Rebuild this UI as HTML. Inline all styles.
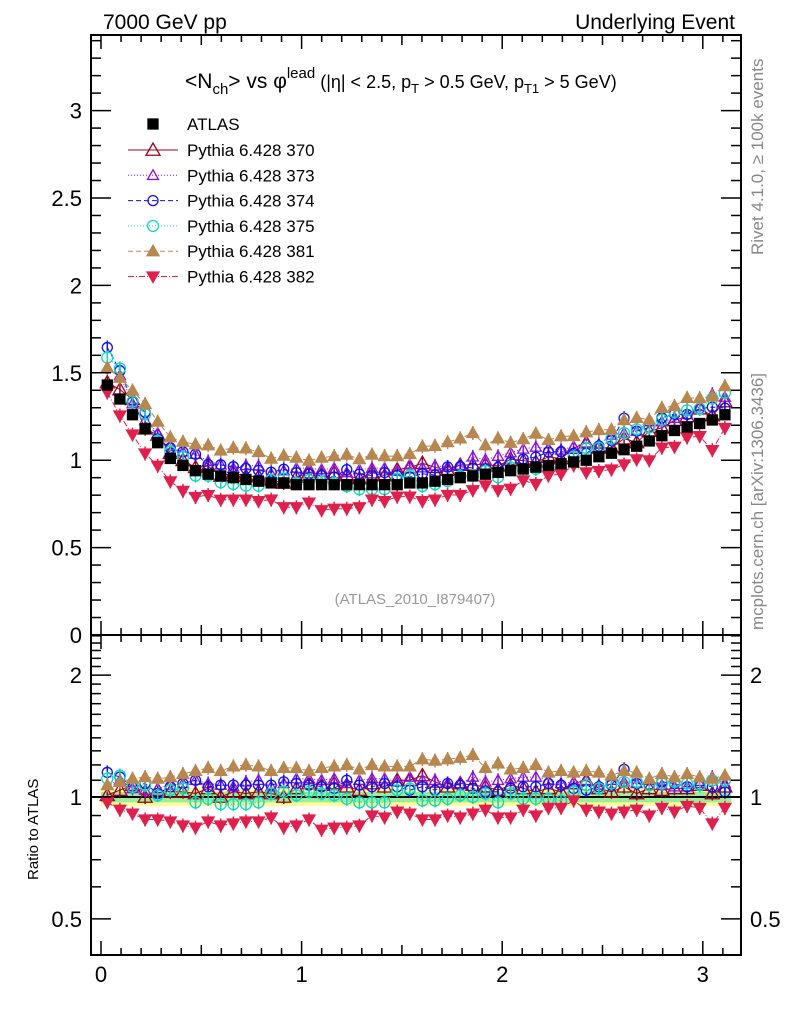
<!DOCTYPE html>
<html><head><meta charset="utf-8"><style>
body{margin:0;background:#fff;width:786px;height:1024px;overflow:hidden}
svg{font-family:"Liberation Sans",sans-serif}
</style></head><body>
<svg id="c" width="786" height="1024" xmlns="http://www.w3.org/2000/svg"></svg>
<script>
const atlas=[1.43,1.35,1.26,1.18,1.10,1.01,0.97,0.94,0.92,0.91,0.90,0.89,0.88,0.87,0.87,0.86,0.86,0.86,0.86,0.86,0.86,0.86,0.86,0.86,0.87,0.87,0.88,0.89,0.90,0.91,0.92,0.93,0.94,0.95,0.96,0.97,0.98,0.99,1.00,1.02,1.04,1.06,1.08,1.11,1.14,1.17,1.19,1.21,1.23,1.26];
const r370=[1.01,1.04,1.07,1.00,1.04,1.03,1.03,1.02,1.05,1.00,1.03,1.02,1.03,1.02,1.00,1.05,1.08,1.07,1.08,1.06,1.04,1.08,1.06,1.10,1.10,1.13,1.09,1.06,1.08,1.07,1.06,1.04,1.07,1.05,1.03,1.05,1.03,1.08,1.10,1.05,1.03,1.06,1.02,1.05,1.04,1.05,1.05,1.07,1.02,1.06];
const r373=[1.07,1.10,1.05,1.04,1.05,1.07,1.08,1.10,1.08,1.07,1.06,1.09,1.10,1.06,1.08,1.11,1.11,1.10,1.11,1.08,1.10,1.11,1.11,1.09,1.12,1.10,1.10,1.08,1.08,1.12,1.09,1.10,1.11,1.12,1.12,1.10,1.08,1.09,1.10,1.07,1.10,1.09,1.08,1.10,1.07,1.06,1.06,1.08,1.12,1.08];
const r374=[1.15,1.12,1.06,1.08,1.02,1.06,1.08,1.10,1.06,1.07,1.07,1.07,1.07,1.07,1.09,1.08,1.07,1.06,1.05,1.10,1.07,1.06,1.08,1.06,1.04,1.06,1.04,1.08,1.07,1.05,1.03,1.03,1.05,1.06,1.06,1.08,1.07,1.05,1.04,1.06,1.07,1.17,1.08,1.07,1.09,1.08,1.06,1.07,1.06,1.03];
const r375=[1.11,1.13,1.06,1.07,1.01,1.04,1.05,0.97,0.99,0.96,0.96,0.96,0.97,1.02,1.03,1.01,1.03,1.02,1.01,0.99,0.97,0.97,0.97,1.04,1.05,0.98,0.98,0.99,1.01,1.00,1.02,0.97,1.02,0.99,0.99,0.99,0.98,1.03,1.07,1.05,1.08,1.09,1.09,1.07,1.08,1.09,1.08,1.07,1.10,1.10];
const r381=[1.07,1.09,1.11,1.12,1.11,1.12,1.14,1.16,1.18,1.16,1.19,1.20,1.19,1.16,1.18,1.18,1.16,1.18,1.19,1.20,1.17,1.20,1.19,1.19,1.19,1.24,1.23,1.24,1.25,1.27,1.18,1.21,1.17,1.18,1.20,1.15,1.16,1.15,1.16,1.15,1.13,1.16,1.15,1.11,1.14,1.12,1.14,1.12,1.11,1.13];
const r382=[0.97,0.93,0.91,0.88,0.88,0.87,0.85,0.84,0.87,0.85,0.86,0.87,0.87,0.89,0.84,0.85,0.88,0.83,0.84,0.84,0.85,0.90,0.89,0.92,0.91,0.88,0.88,0.90,0.89,0.91,0.93,0.89,0.89,0.93,0.90,0.94,0.94,0.98,0.93,0.92,0.91,0.92,0.93,0.90,0.94,0.92,0.95,0.94,0.86,0.94];
const mainTicks=["0","0.5","1","1.5","2","2.5","3"];
const xTicks=["0","1","2","3"];
const ratioTicks=["0.5","1","2"];

const S=document.getElementById('c');const NS="http://www.w3.org/2000/svg";
function el(t,a,p){const e=document.createElementNS(NS,t);for(const k in a)e.setAttribute(k,a[k]);(p||S).appendChild(e);return e;}
const L=91,R=741,T=35,M=635,B=955;
const X=v=>101+v*200.6;
const Y=v=>635-v*174.8;
const YR=v=>797-Math.log10(v)*405;
const N=atlas.length;const xc=i=>(i+0.5)*Math.PI/N;

let g=el('g',{});
el('rect',{x:X(0),y:YR(1.05),width:X(Math.PI)-X(0),height:YR(0.95)-YR(1.05),fill:'#ffff99'},g);
el('rect',{x:X(0),y:YR(1.03),width:X(Math.PI)-X(0),height:YR(0.97)-YR(1.03),fill:'#99ee99'},g);
el('line',{x1:L,x2:R,y1:YR(1),y2:YR(1),stroke:'#000','stroke-width':2});

const series=[
 {n:'370',r:r370,c:'#a0001c',m:'tri',f:false,s:7,d:''},
 {n:'373',r:r373,c:'#8a10e0',m:'tri',f:false,s:5.5,d:'1,2'},
 {n:'374',r:r374,c:'#1010f0',m:'circ',f:false,s:5,d:'5,3'},
 {n:'375',r:r375,c:'#10d8c0',m:'circ',f:false,s:5.5,d:'1,2'},
 {n:'381',r:r381,c:'#b8864f',m:'tri',f:true,s:6,d:'5,3'},
 {n:'382',r:r382,c:'#e0204c',m:'dtri',f:true,s:6,d:'6,2,1,2'}];
function marker(m,x,y,s,c,f,p){
 const a={fill:f?c:'none',stroke:c,'stroke-width':1.3};
 if(m==='tri')a.points=`${x},${y-s} ${x-s},${y+s*0.75} ${x+s},${y+s*0.75}`;
 if(m==='dtri')a.points=`${x},${y+s} ${x-s},${y-s*0.75} ${x+s},${y-s*0.75}`;
 if(m==='circ'){a.cx=x;a.cy=y;a.r=s;return el('circle',a,p);}
 if(m==='sq'){a.x=x-5;a.y=y-5;a.width=10;a.height=10;return el('rect',a,p);}
 return el('polygon',a,p);
}
function draw(sr,vals,Yf,name){
 const gg=el('g',{});
 let pts=vals.map((v,i)=>X(xc(i))+','+Yf(v)).join(' ');
 el('polyline',{points:pts,fill:'none',stroke:sr.c,'stroke-width':1,'stroke-dasharray':sr.d},gg);
 vals.forEach((v,i)=>{const x=X(xc(i)),y=Yf(v);
  el('line',{x1:x,x2:x,y1:y-7,y2:y+7,stroke:sr.c,'stroke-width':1.5},gg);
  marker(sr.m,x,y,sr.s,sr.c,sr.f,gg);});
}
series.forEach(sr=>{
 draw(sr,sr.r.map((r,i)=>r*atlas[i]),Y,'series-'+sr.n);
 draw(sr,sr.r,YR,'ratio-series-'+sr.n);
});
let ga=el('g',{});
atlas.forEach((v,i)=>{const x=X(xc(i));marker('sq',x,Y(v),5,'#000',true,ga);});

el('rect',{x:L,y:T,width:R-L,height:M-T,fill:'none',stroke:'#000','stroke-width':2});
el('rect',{x:L,y:M,width:R-L,height:B-M,fill:'none',stroke:'#000','stroke-width':2});
for(let k=0;k<=31;k++){const v=k*0.1,x=X(v);const mj=k%10===0,mid=k%5===0;const l=mj?14:(mid?10:7);
 [[T,1],[M,-1],[M,1],[B,-1]].forEach(([y0,dir])=>el('line',{x1:x,x2:x,y1:y0,y2:y0+dir*l,stroke:'#000','stroke-width':1.5}));}
xTicks.forEach(t=>{const e=el('text',{x:X(+t),y:982,'font-size':22,'text-anchor':'middle'});e.textContent=t;});
for(let k=0;k<=34;k++){const v=k*0.1,y=Y(v);const l=k%5===0?20:10;
 el('line',{x1:L,x2:L+l,y1:y,y2:y,stroke:'#000','stroke-width':1.5});el('line',{x1:R,x2:R-l,y1:y,y2:y,stroke:'#000','stroke-width':1.5});}
mainTicks.forEach(t=>{const e=el('text',{x:82,y:Y(+t)+8,'font-size':22,'text-anchor':'end'});e.textContent=t;});
[0.5,0.6,0.7,0.8,0.9,1,1.1,1.2,1.3,1.4,1.5,1.6,1.7,1.8,1.9,2,2.1,2.2,2.3,2.4,2.5].forEach(v=>{const y=YR(v);if(y<M||y>B)return;const l=(v===0.5||v===1||v===2)?20:10;
 el('line',{x1:L,x2:L+l,y1:y,y2:y,stroke:'#000','stroke-width':1.5});el('line',{x1:R,x2:R-l,y1:y,y2:y,stroke:'#000','stroke-width':1.5});});
ratioTicks.forEach(t=>{let e=el('text',{x:82,y:YR(+t)+8,'font-size':22,'text-anchor':'end'});e.textContent=t;
 e=el('text',{x:750,y:YR(+t)+8,'font-size':22});e.textContent=t;});
const lg=el('g',{});
marker('sq',153,124,5,'#000',true,lg);let t=el('text',{x:187,y:130,'font-size':17},lg);t.textContent='ATLAS';
series.forEach((sr,i)=>{const y=150+i*25.3;
 el('line',{x1:128,x2:178,y1:y,y2:y,stroke:sr.c,'stroke-width':1,'stroke-dasharray':sr.d},lg);
 marker(sr.m,153,y,sr.s,sr.c,sr.f,lg);
 const tt=el('text',{x:187,y:y+6,'font-size':17},lg);tt.textContent='Pythia 6.428 '+sr.n;
 });
</script>
<svg width="786" height="1024" style="position:absolute;left:0;top:0" xmlns="http://www.w3.org/2000/svg">
<text x="103" y="29" font-size="21">7000 GeV pp</text>
<text x="735" y="29" font-size="21" text-anchor="end">Underlying Event</text>
<text x="185" y="88" font-size="21">&lt;N<tspan font-size="15" dy="6">ch</tspan><tspan dy="-6">&gt; vs φ</tspan><tspan font-size="15" dy="-10">lead</tspan><tspan font-size="18" dy="10"> (|η| &lt; 2.5, p</tspan><tspan font-size="13" dy="5">T</tspan><tspan font-size="18" dy="-5"> &gt; 0.5 GeV, p</tspan><tspan font-size="13" dy="5">T1</tspan><tspan font-size="18" dy="-5"> &gt; 5 GeV)</tspan></text>
<text x="415" y="604" font-size="15" fill="#999" text-anchor="middle">(ATLAS_2010_I879407)</text>
<text transform="translate(763,255) rotate(-90)" font-size="17" fill="#888">Rivet 4.1.0, ≥ 100k events</text>
<text transform="translate(763,630) rotate(-90)" font-size="17" fill="#888">mcplots.cern.ch [arXiv:1306.3436]</text>
<text transform="translate(38,880) rotate(-90)" font-size="15">Ratio to ATLAS</text>
</svg>
</body></html>
